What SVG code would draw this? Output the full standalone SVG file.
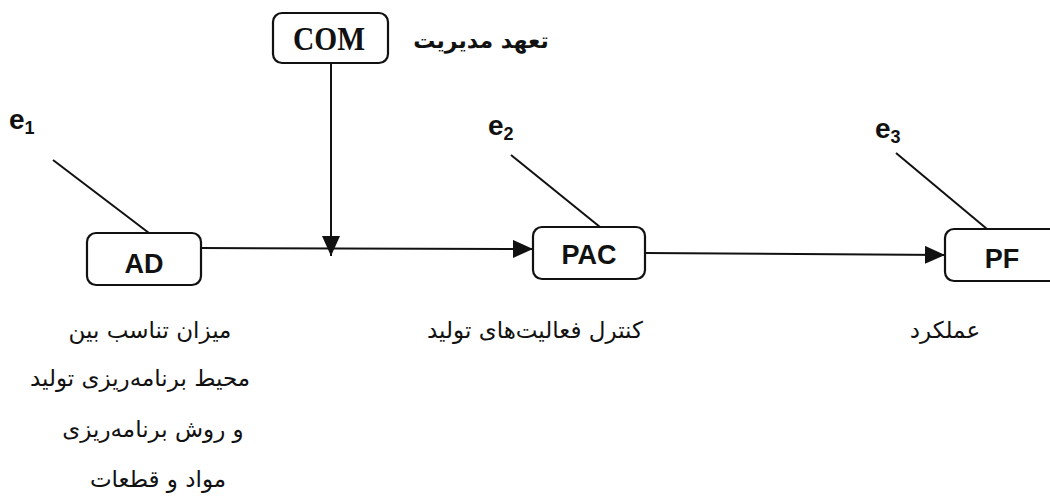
<svg xmlns="http://www.w3.org/2000/svg" width="1050" height="500" viewBox="0 0 1050 500">
<defs>
<marker id="arr" viewBox="0 0 20 18" refX="20" refY="9" markerWidth="20" markerHeight="18" markerUnits="userSpaceOnUse" orient="auto">
<path d="M0,0 L20,9 L0,18 Z" fill="#111"/>
</marker>
<style>
.box{fill:#fff;stroke:#111;stroke-width:2.2}
.lbl{font-family:"Liberation Sans",Arial,sans-serif;font-weight:bold;font-size:27px;fill:#111;text-anchor:middle}
.com{font-family:"Liberation Serif","Times New Roman",serif;font-weight:bold;font-size:34px;fill:#111}
.err{font-family:"Liberation Sans",Arial,sans-serif;font-weight:bold;font-size:28px;fill:#111}
.sub{font-size:18px}
.fa{font-family:"DejaVu Sans",sans-serif;font-size:23px;fill:#111;text-anchor:middle}
.fab{font-family:"DejaVu Sans",sans-serif;font-size:22px;font-weight:bold;fill:#111;text-anchor:middle}
.ln{stroke:#111;stroke-width:2;fill:none}
</style>
</defs>
<rect width="1050" height="500" fill="#fff"/>
<g id="connectors">
<line class="ln" x1="331" y1="63" x2="331" y2="256" marker-end="url(#arr)"/>
<line class="ln" x1="201" y1="248" x2="533" y2="249" marker-end="url(#arr)"/>
<line class="ln" x1="645" y1="253" x2="945" y2="255" marker-end="url(#arr)"/>
<line class="ln" x1="53" y1="160" x2="149" y2="233"/>
<line class="ln" x1="511" y1="155" x2="600" y2="227"/>
<line class="ln" x1="896" y1="153" x2="987" y2="229"/>
</g>
<g id="node-com">
<rect class="box" x="273" y="13" width="115" height="50" rx="9"/>
<text class="com" x="293" y="50" textLength="72" lengthAdjust="spacingAndGlyphs">COM</text>
<text class="fab" x="481" y="48" direction="rtl">تعهد مدیریت</text>
</g>
<g id="node-ad">
<rect class="box" x="87" y="233" width="114" height="52" rx="9"/>
<text class="lbl" x="144" y="273">AD</text>
<text class="fa" x="150" y="338" direction="rtl">میزان تناسب بین</text>
<text class="fa" x="140" y="386" direction="rtl">محیط برنامه‌ریزی تولید</text>
<text class="fa" x="153" y="437" direction="rtl">و روش برنامه‌ریزی</text>
<text class="fa" x="158" y="487" direction="rtl">مواد و قطعات</text>
</g>
<g id="node-pac">
<rect class="box" x="533" y="227" width="112" height="52" rx="9"/>
<text class="lbl" x="589" y="264">PAC</text>
<text class="fa" x="535" y="338" direction="rtl">کنترل فعالیت‌های تولید</text>
</g>
<g id="node-pf">
<rect class="box" x="945" y="229" width="120" height="52" rx="9"/>
<text class="lbl" x="1002" y="268">PF</text>
<text class="fa" x="945" y="338" direction="rtl">عملکرد</text>
</g>
<g id="node-e1"><text class="err" x="9" y="129">e<tspan class="sub" dy="5">1</tspan></text></g>
<g id="node-e2"><text class="err" x="488" y="135">e<tspan class="sub" dy="5">2</tspan></text></g>
<g id="node-e3"><text class="err" x="875" y="138">e<tspan class="sub" dy="5">3</tspan></text></g>
</svg>
